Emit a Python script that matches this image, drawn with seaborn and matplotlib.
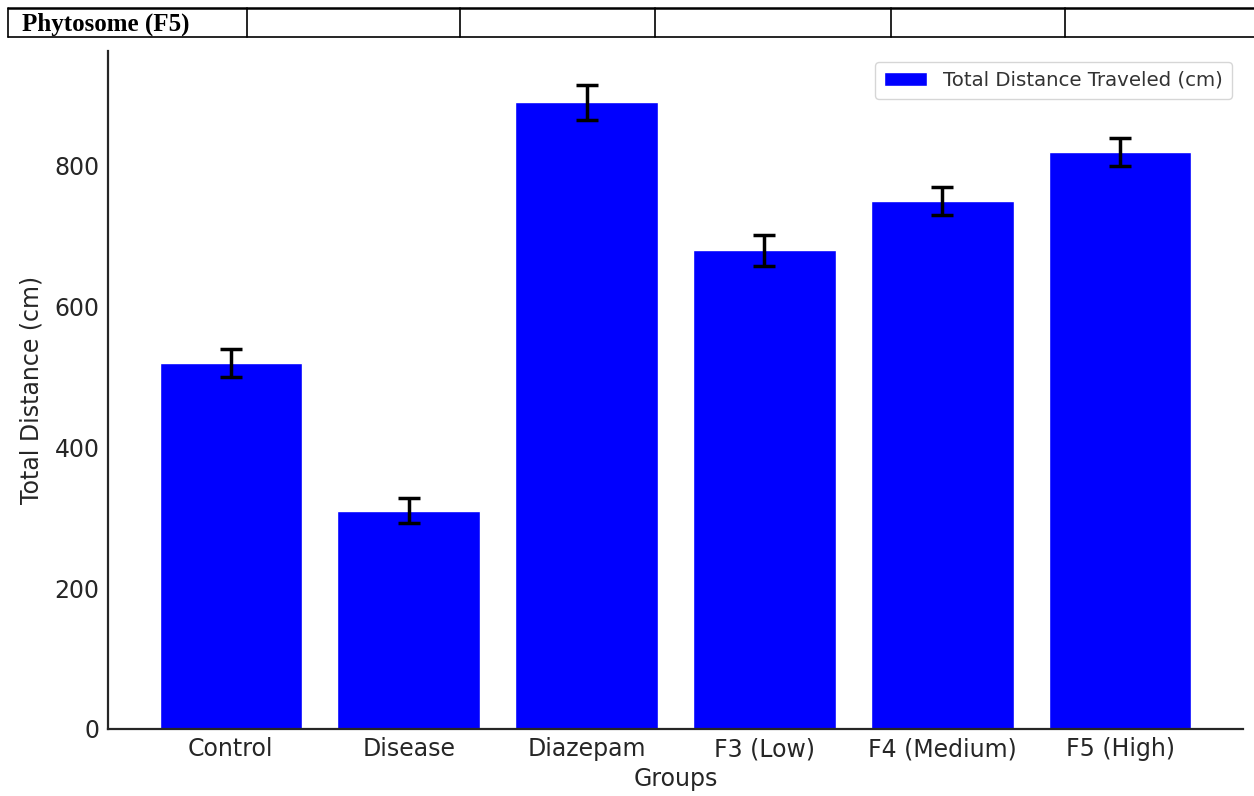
import matplotlib
matplotlib.use("Agg")
import matplotlib.pyplot as plt
import seaborn as sns
import pandas as pd
from matplotlib.lines import Line2D

groups = ["Control", "Disease", "Diazepam", "F3 (Low)", "F4 (Medium)", "F5 (High)"]
distance = [520, 310, 890, 680, 750, 820]
errors = [20, 18, 25, 22, 20, 20]
header_cells = ["Phytosome (F5)", "", "", "", "", ""]

df = pd.DataFrame({"Groups": groups, "Distance": distance, "Err": errors})

sns.set_style("white")
plt.rcParams["font.family"] = ["DejaVu Sans"]
TXT = "#262626"

W, H = 1254, 796
fig = plt.figure(figsize=(W / 100, H / 100), dpi=100)
ax = fig.add_axes([108 / W, 1 - 729 / H, (1243 - 108) / W, (729 - 51) / H])

sns.barplot(data=df, x="Groups", y="Distance", color="#0000ff", saturation=1,
            width=0.8, ax=ax, label="Total Distance Traveled (cm)", errorbar=None)
ax.errorbar(range(len(groups)), df["Distance"], yerr=df["Err"], fmt="none",
            ecolor="black", elinewidth=2.5, capsize=8, capthick=2.5, zorder=5)

ax.set_xlim(-0.69, 5.69)
ax.set_ylim(0, 963)
ax.set_yticks([0, 200, 400, 600, 800])
ax.set_xlabel("Groups", fontsize=17, color=TXT, labelpad=4)
ax.set_ylabel("Total Distance (cm)", fontsize=17, color=TXT, labelpad=8)
ax.tick_params(axis="both", direction="in", length=7, width=1.2, colors="#333333",
               labelsize=17, labelcolor=TXT, pad=6)
for s in ["top", "right"]:
    ax.spines[s].set_visible(False)
for s in ["left", "bottom"]:
    ax.spines[s].set_color("#262626")
    ax.spines[s].set_linewidth(1.6)

leg = ax.legend(loc="upper right", fontsize=14.2, frameon=True, fancybox=True,
                borderpad=0.45, handlelength=2.2, borderaxespad=0,
                bbox_to_anchor=(0.990, 0.984))
leg.get_frame().set_edgecolor("#cccccc")
for t in leg.get_texts():
    t.set_color("#333333")

# header table strip
y_top, y_bot = 1 - 8 / H, 1 - 37 / H
xs = [8, 247, 460, 655, 891, 1065, 1254]
fig.add_artist(Line2D([8 / W, 1], [y_top, y_top], color="black", lw=1.8, transform=fig.transFigure))
fig.add_artist(Line2D([8 / W, 1], [y_bot, y_bot], color="black", lw=1.2, transform=fig.transFigure))
for x in xs[:-1]:
    fig.add_artist(Line2D([x / W, x / W], [y_top, y_bot], color="black", lw=1.2,
                          transform=fig.transFigure))
for i, txt in enumerate(header_cells):
    if txt:
        fig.text((xs[i] + 14) / W, 1 - 24 / H, txt, fontsize=18, fontweight="bold",
                 family="Liberation Serif", va="center", ha="left", color="black")

fig.savefig("out.png", dpi=100)
